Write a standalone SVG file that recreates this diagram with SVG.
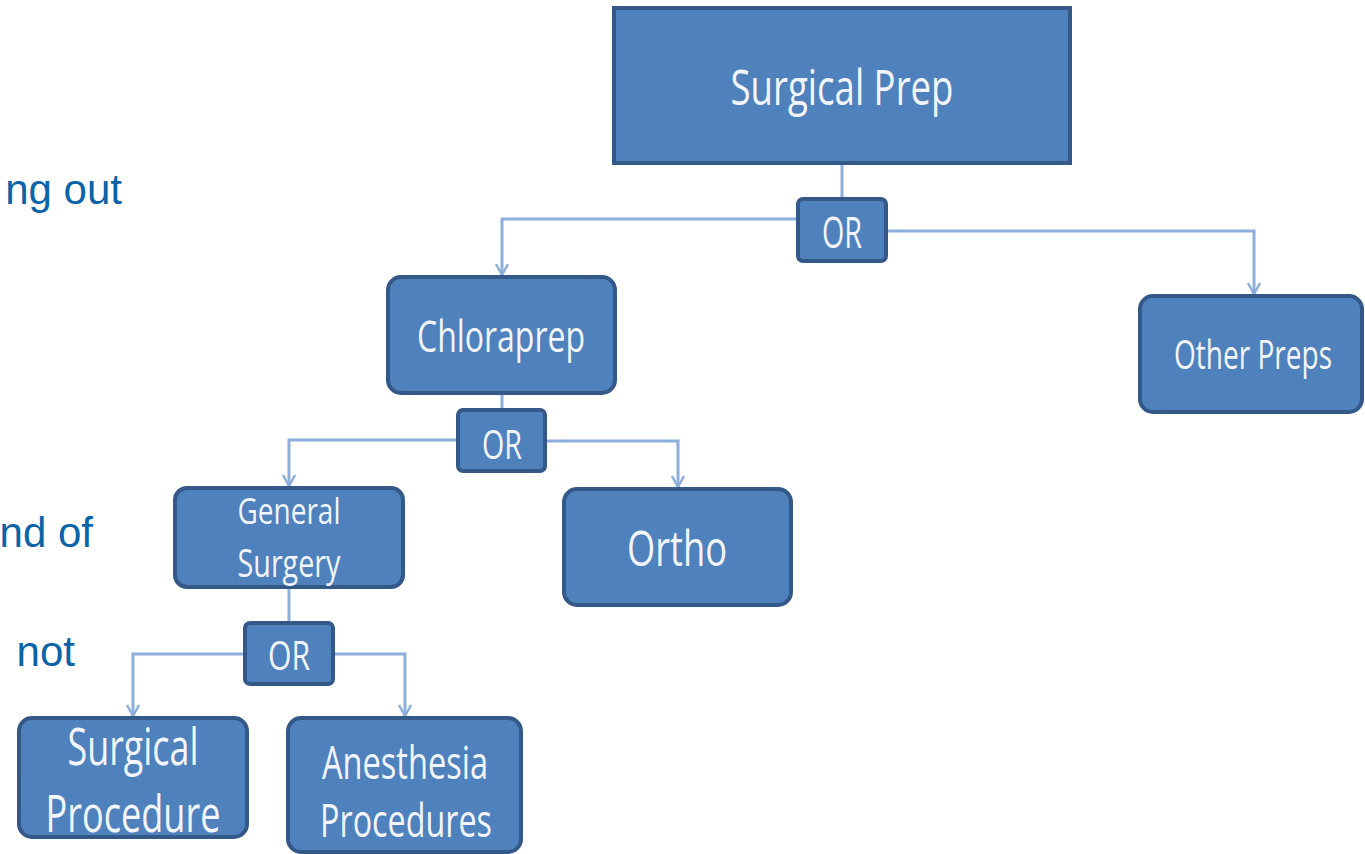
<svg xmlns="http://www.w3.org/2000/svg" width="1365" height="854" viewBox="0 0 1365 854">
<defs>
<marker id="arr" markerUnits="userSpaceOnUse" markerWidth="16" markerHeight="16" refX="14" refY="8" orient="auto" viewBox="0 0 16 16">
<path d="M3,2 L14,8 L3,14" fill="none" stroke="#8eaedb" stroke-width="2.5"/>
</marker>
<style>
.box{fill:#4f81bd;stroke:#345887;stroke-width:4}
.lbl{fill:#f2f5fb;font-family:"Open Sans","Liberation Sans",sans-serif;text-anchor:middle}
.side{fill:#0b63a8;font-family:"Liberation Sans",Arial,sans-serif;font-size:42px;text-anchor:end}
.con{fill:none;stroke:#8eaedb;stroke-width:3}
</style>
</defs>
<rect width="1365" height="854" fill="#ffffff"/>
<g id="side-text">
<text class="side" x="122" y="204">ng out</text>
<text class="side" x="93" y="547">nd of</text>
<text class="side" x="75" y="666">not</text>
</g>
<g id="connectors">
<path class="con" d="M842,163 V199"/>
<path class="con" d="M798,219 H502 V275" marker-end="url(#arr)"/>
<path class="con" d="M886,231 H1254 V294" marker-end="url(#arr)"/>
<path class="con" d="M502,393 V410"/>
<path class="con" d="M458,440 H289 V486" marker-end="url(#arr)"/>
<path class="con" d="M545,441 H678 V487" marker-end="url(#arr)"/>
<path class="con" d="M289,587 V622"/>
<path class="con" d="M245,654 H133 V716" marker-end="url(#arr)"/>
<path class="con" d="M333,654 H405 V716" marker-end="url(#arr)"/>
</g>
<g id="surgical-prep">
<rect class="box" x="614" y="8" width="456" height="155"/>
<text class="lbl" x="842" y="105" font-size="50" textLength="223" lengthAdjust="spacingAndGlyphs">Surgical Prep</text>
</g>
<g id="or1">
<rect class="box" x="798" y="199" width="88" height="62" rx="5"/>
<text class="lbl" x="842" y="248" font-size="44" textLength="40" lengthAdjust="spacingAndGlyphs">OR</text>
</g>
<g id="chloraprep">
<rect class="box" x="388" y="277" width="227" height="116" rx="13"/>
<text class="lbl" x="501" y="352" font-size="44" textLength="168" lengthAdjust="spacingAndGlyphs">Chloraprep</text>
</g>
<g id="other-preps">
<rect class="box" x="1140" y="296" width="222" height="116" rx="13"/>
<text class="lbl" x="1253" y="369" font-size="40" textLength="158" lengthAdjust="spacingAndGlyphs">Other Preps</text>
</g>
<g id="or2">
<rect class="box" x="458" y="410" width="87" height="61" rx="5"/>
<text class="lbl" x="502" y="459" font-size="40" textLength="40" lengthAdjust="spacingAndGlyphs">OR</text>
</g>
<g id="general-surgery">
<rect class="box" x="175" y="488" width="228" height="99" rx="12"/>
<text class="lbl" x="289" y="524" font-size="36" textLength="103" lengthAdjust="spacingAndGlyphs">General</text>
<text class="lbl" x="289" y="577" font-size="38" textLength="103" lengthAdjust="spacingAndGlyphs">Surgery</text>
</g>
<g id="ortho">
<rect class="box" x="564" y="489" width="227" height="116" rx="13"/>
<text class="lbl" x="677" y="566" font-size="50" textLength="100" lengthAdjust="spacingAndGlyphs">Ortho</text>
</g>
<g id="or3">
<rect class="box" x="245" y="623" width="88" height="61" rx="5"/>
<text class="lbl" x="289" y="670" font-size="40" textLength="42" lengthAdjust="spacingAndGlyphs">OR</text>
</g>
<g id="surgical-procedure">
<rect class="box" x="19" y="718" width="228" height="119" rx="13"/>
<text class="lbl" x="133" y="765" font-size="52" textLength="131" lengthAdjust="spacingAndGlyphs">Surgical</text>
<text class="lbl" x="133" y="832" font-size="52" textLength="175" lengthAdjust="spacingAndGlyphs">Procedure</text>
</g>
<g id="anesthesia-procedures">
<rect class="box" x="288" y="718" width="233" height="134" rx="13"/>
<text class="lbl" x="405" y="779" font-size="46" textLength="166" lengthAdjust="spacingAndGlyphs">Anesthesia</text>
<text class="lbl" x="406" y="837" font-size="46" textLength="172" lengthAdjust="spacingAndGlyphs">Procedures</text>
</g>
</svg>
